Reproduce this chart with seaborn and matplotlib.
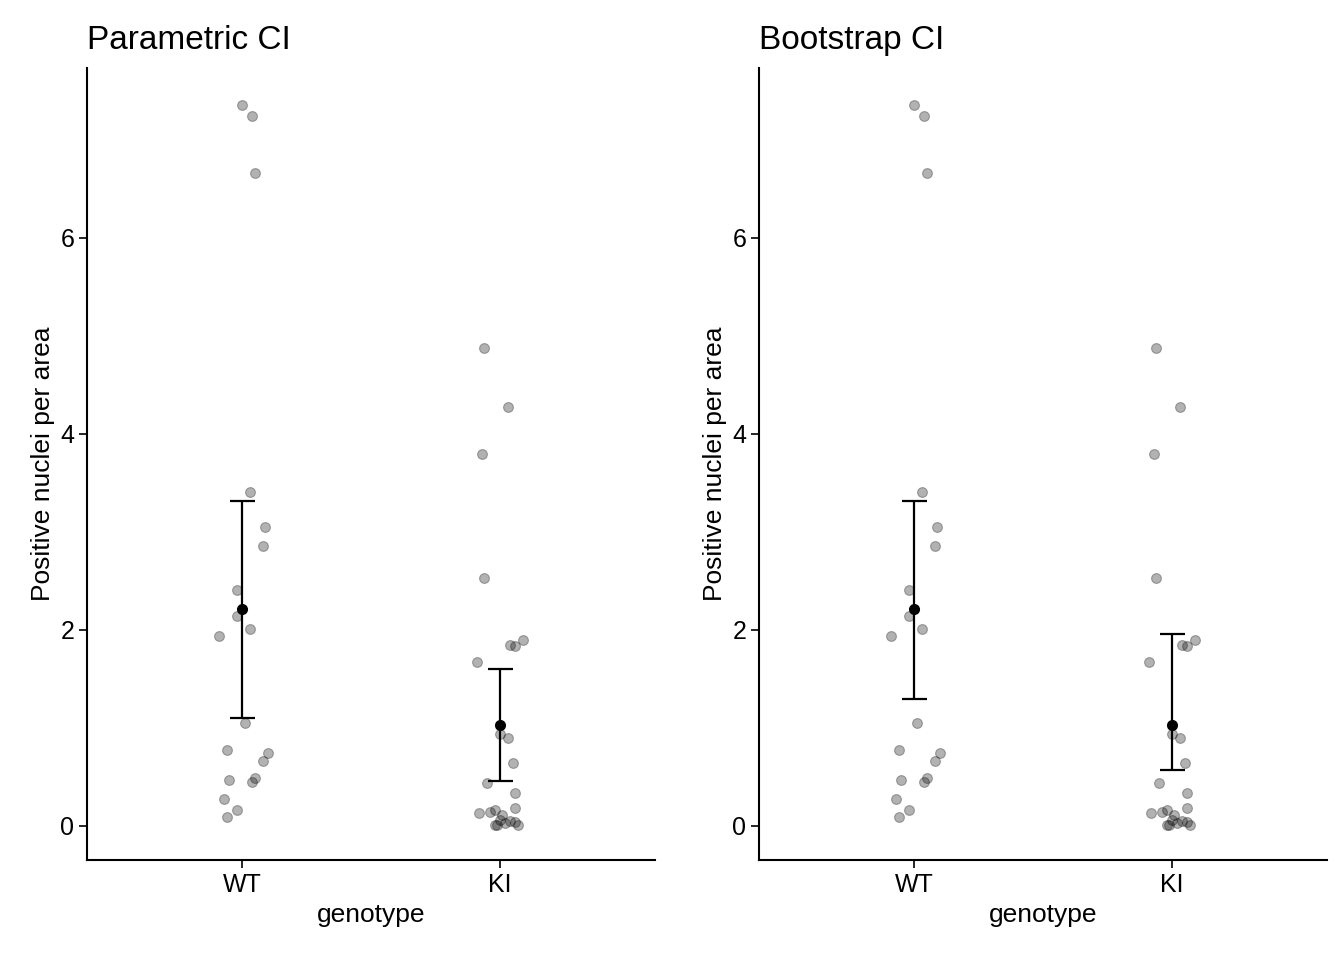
import numpy as np
import pandas as pd
import matplotlib
matplotlib.use("Agg")
import matplotlib.pyplot as plt
import seaborn as sns

genotypes = ["WT", "KI"]

wt_values = [7.35, 7.24, 6.66, 3.41, 3.05, 2.85, 2.41, 2.14, 2.01, 1.94,
             1.05, 0.77, 0.74, 0.66, 0.49, 0.47, 0.45, 0.27, 0.16, 0.09]
wt_jitter = [0.00, 0.04, 0.05, 0.03, 0.09, 0.08, -0.02, -0.02, 0.03, -0.09,
             0.01, -0.06, 0.10, 0.08, 0.05, -0.05, 0.04, -0.07, -0.02, -0.06]

ki_values = [4.87, 4.27, 3.79, 2.53, 1.90, 1.85, 1.83, 1.67, 0.94, 0.90,
             0.64, 0.44, 0.34, 0.18, 0.16, 0.14, 0.13, 0.11, 0.05, 0.03,
             0.04, 0.01, 0.01, 0.01, 0.06]
ki_jitter = [-0.06, 0.03, -0.07, -0.06, 0.09, 0.04, 0.06, -0.09, 0.00, 0.03,
             0.05, -0.05, 0.06, 0.06, -0.02, -0.04, -0.08, 0.01, 0.04, 0.02,
             0.06, -0.02, -0.01, 0.07, 0.00]

means = [2.21, 1.03]
param_lo = [1.10, 0.46]
param_hi = [3.31, 1.60]
boot_lo = [1.29, 0.57]
boot_hi = [3.31, 1.96]

df = pd.DataFrame({
    "genotype": ["WT"] * len(wt_values) + ["KI"] * len(ki_values),
    "value": wt_values + ki_values,
    "jitter": wt_jitter + ki_jitter,
})
df["xpos"] = df["genotype"].map({g: i for i, g in enumerate(genotypes)}) + df["jitter"]

plt.rcParams["font.family"] = ["Liberation Sans", "DejaVu Sans"]
fig = plt.figure(figsize=(13.44, 9.6), dpi=100)
ax1 = fig.add_axes([0.065, 0.104, 0.422, 0.825])
ax2 = fig.add_axes([0.565, 0.104, 0.422, 0.825])

panels = [(ax1, "Parametric CI", param_lo, param_hi),
          (ax2, "Bootstrap CI", boot_lo, boot_hi)]

for ax, title, lo, hi in panels:
    sns.scatterplot(data=df, x="xpos", y="value", color="black", alpha=0.3,
                    s=50, edgecolor="black", linewidth=0.8, ax=ax, legend=False)
    xs = np.arange(len(genotypes))
    m = np.array(means)
    ax.errorbar(xs, m, yerr=[m - np.array(lo), np.array(hi) - m], fmt="o",
                color="black", ms=7, capsize=9, elinewidth=1.6, capthick=1.6)
    ax.set_xlim(-0.6, 1.6)
    ax.set_ylim(-0.35, 7.73)
    ax.set_xticks(xs)
    ax.set_xticklabels(genotypes)
    ax.set_yticks([0, 2, 4, 6])
    ax.set_xlabel("genotype", fontsize=19)
    ax.set_ylabel("Positive nuclei per area", fontsize=19)
    ax.set_title(title, fontsize=24, loc="left", pad=14)
    ax.tick_params(labelsize=18, width=1.2, length=6)
    for s in ["top", "right"]:
        ax.spines[s].set_visible(False)
    for s in ["left", "bottom"]:
        ax.spines[s].set_linewidth(1.5)

fig.savefig("out.png", dpi=100)
